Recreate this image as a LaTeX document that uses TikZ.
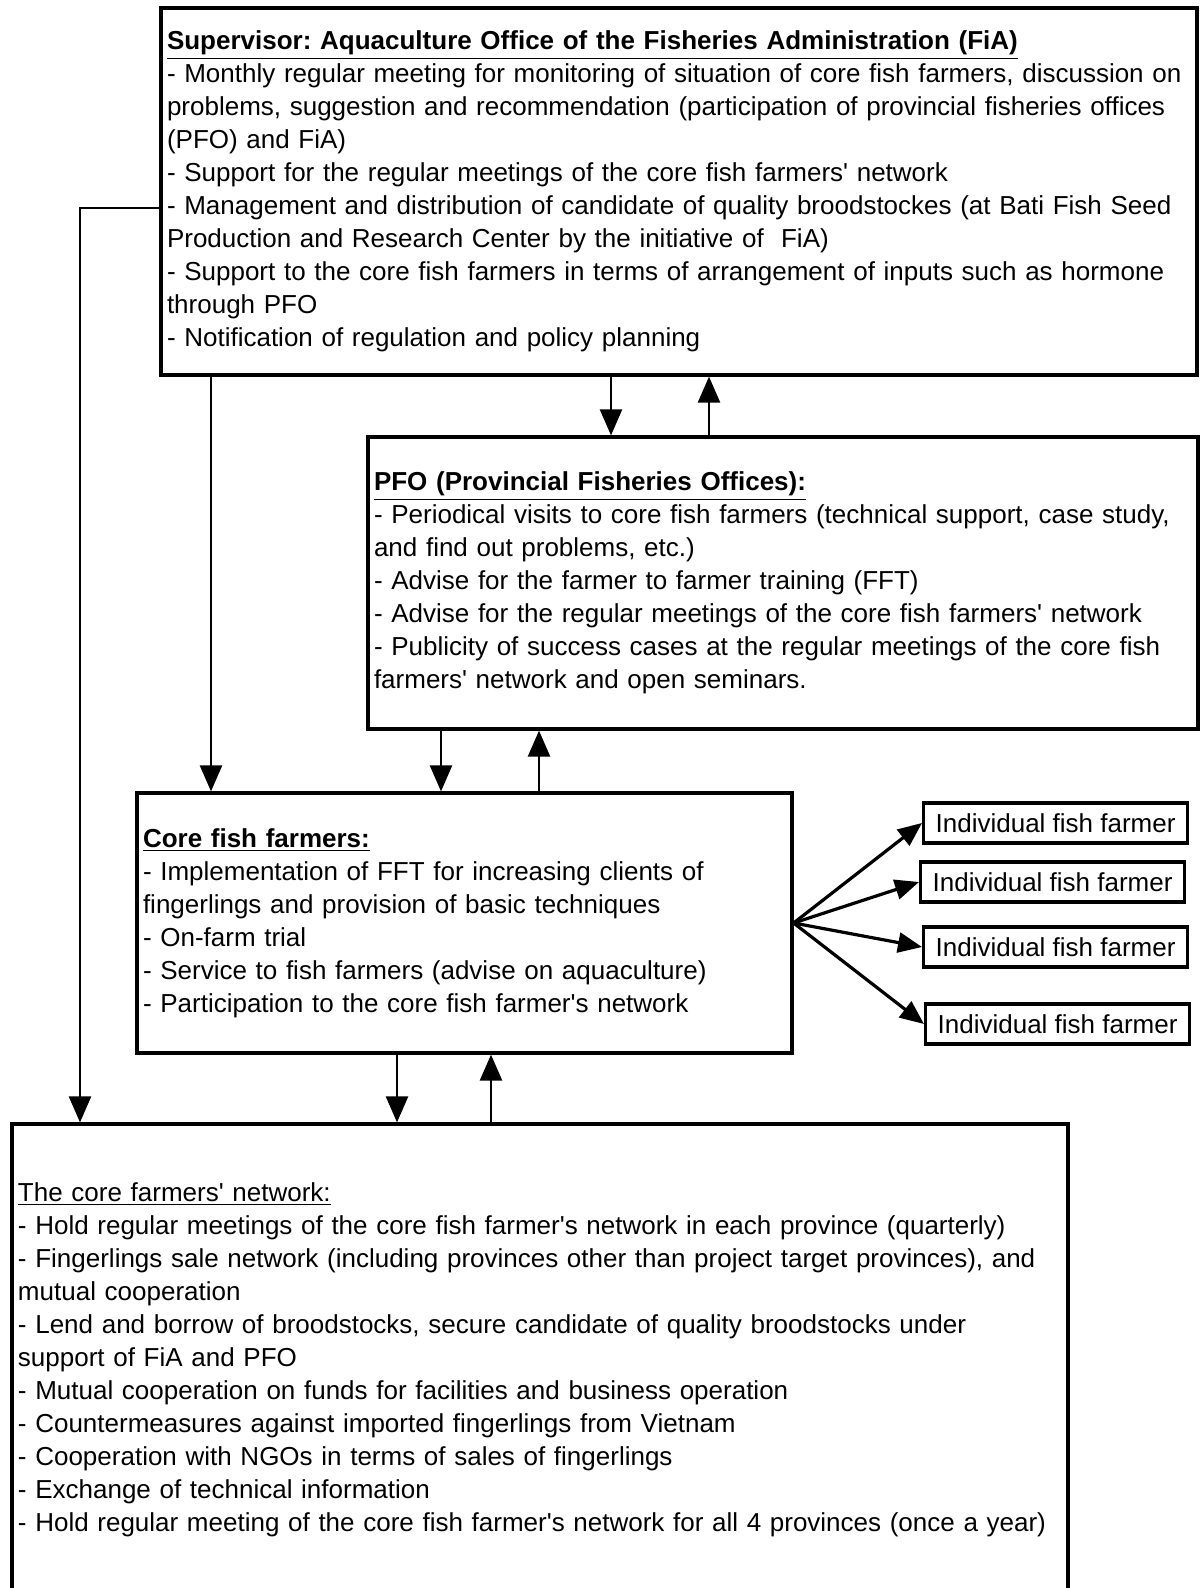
\documentclass[tikz,border=0pt]{standalone}
\usepackage{fontspec}
\setmainfont{Liberation Sans}[Ligatures=TeXOff]
\usetikzlibrary{arrows.meta, positioning}
\frenchspacing

\begin{document}
\begin{tikzpicture}[x=0.5pt, y=-0.5pt, font=\fontsize{13}{16.5}\selectfont]
    \tikzstyle{block} = [rectangle, draw, line width=1.6pt, align=left, inner xsep=3pt, inner ysep=0pt]
    \tikzstyle{farmer} = [rectangle, draw, line width=1.6pt, minimum width=132pt, minimum height=20pt, inner xsep=2pt, anchor=west]
    \tikzstyle{line} = [draw, line width=1.2pt, -{Triangle[length=13pt, width=11pt]}]
    \tikzstyle{fan} = [draw, line width=1.6pt, -{Triangle[length=12pt, width=10pt]}]

    \useasboundingbox (0,0) rectangle (1200,1588);

    \node [block, text width=512pt, minimum height=183.5pt] (fia) at (679,191.5) {\underline{\textbf{Supervisor: Aquaculture Office of the Fisheries Administration (FiA)}}\\- Monthly regular meeting for monitoring of situation of core fish farmers, discussion on\\problems, suggestion and recommendation (participation of provincial fisheries offices\\(PFO) and FiA)\\- Support for the regular meetings of the core fish farmers' network\\- Management and distribution of candidate of quality broodstockes (at Bati Fish Seed\\Production and Research Center by the initiative of \ FiA)\\- Support to the core fish farmers in terms of arrangement of inputs such as hormone\\through PFO\\- Notification of regulation and policy planning};
    \node [block, text width=409pt, minimum height=146pt] (pfo) at (783,583) {\underline{\textbf{PFO (Provincial Fisheries Offices):}}\\- Periodical visits to core fish farmers (technical support, case study,\\and find out problems, etc.)\\- Advise for the farmer to farmer training (FFT)\\- Advise for the regular meetings of the core fish farmers' network\\- Publicity of success cases at the regular meetings of the core fish\\farmers' network and open seminars.};
    \node [block, text width=321.5pt, minimum height=130pt] (core) at (464.5,923) {\underline{\textbf{Core fish farmers:}}\\- Implementation of FFT for increasing clients of\\fingerlings and provision of basic techniques\\- On-farm trial\\- Service to fish farmers (advise on aquaculture)\\- Participation to the core fish farmer's network};
    \node [block, text width=522pt, minimum height=236pt] (net) at (540,1360) {\underline{The core farmers' network:}\\- Hold regular meetings of the core fish farmer's network in each province (quarterly)\\- Fingerlings sale network (including provinces other than project target provinces), and\\mutual cooperation\\- Lend and borrow of broodstocks, secure candidate of quality broodstocks under\\support of FiA and PFO\\- Mutual cooperation on funds for facilities and business operation\\- Countermeasures against imported fingerlings from Vietnam\\- Cooperation with NGOs in terms of sales of fingerlings\\- Exchange of technical information\\- Hold regular meeting of the core fish farmer's network for all 4 provinces (once a year)};

    \node [farmer] (f1) at (922,823) {Individual fish farmer};
    \node [farmer] (f2) at (919,882) {Individual fish farmer};
    \node [farmer] (f3) at (922,947) {Individual fish farmer};
    \node [farmer] (f4) at (924,1024) {Individual fish farmer};

    \coordinate (a1) at (611,0);
    \coordinate (a2) at (709,0);
    \coordinate (b1) at (441,0);
    \coordinate (b2) at (539,0);
    \coordinate (c0) at (211,0);
    \coordinate (d1) at (397,0);
    \coordinate (d2) at (491,0);
    \coordinate (k) at (80,208);

    \path [line] (fia.south -| a1) -- (pfo.north -| a1);
    \path [line] (pfo.north -| a2) -- (fia.south -| a2);
    \path [line] (pfo.south -| b1) -- (core.north -| b1);
    \path [line] (core.north -| b2) -- (pfo.south -| b2);
    \path [line] (fia.south -| c0) -- (core.north -| c0);
    \path [line] (fia.west |- k) -- (k) -- (net.north -| k);
    \path [line] (core.south -| d1) -- (net.north -| d1);
    \path [line] (net.north -| d2) -- (core.south -| d2);

    \foreach \f in {f1,f2,f3,f4}
        \path [fan] (core.east) -- (\f.west);
\end{tikzpicture}
\end{document}
